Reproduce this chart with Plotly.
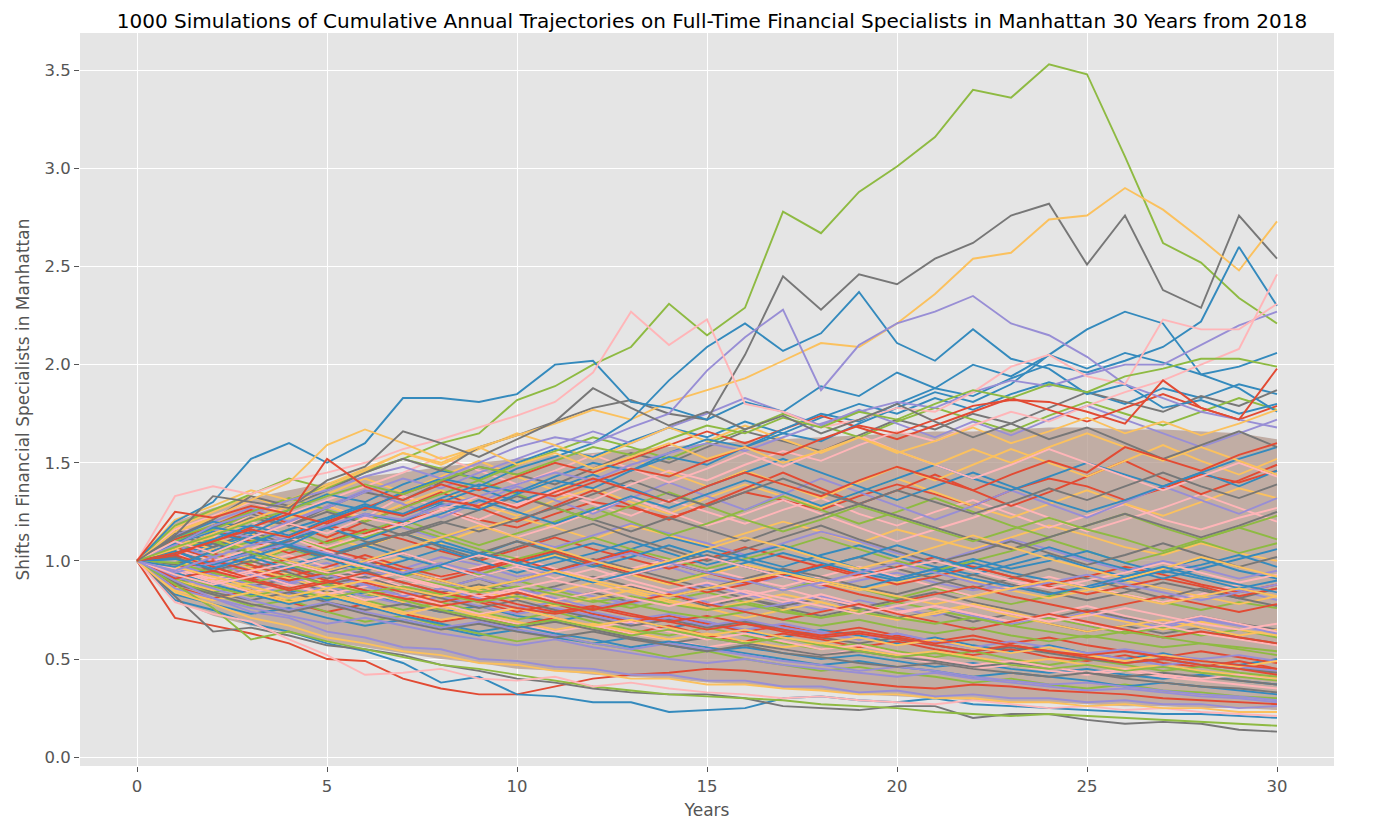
import plotly.graph_objects as go

# ggplot-style colour cycle
CYCLE = ['#E24A33', '#348ABD', '#988ED5', '#777777', '#FBC15E', '#8EBA42', '#FFB5B8']

years = list(range(31))

# edges of the heavily overdrawn part of the bundle
dense_upper = [1.00, 1.20, 1.27, 1.32, 1.36, 1.40, 1.43, 1.45, 1.48, 1.50, 1.52, 1.54, 1.55, 1.57, 1.58, 1.60,
               1.61, 1.62, 1.63, 1.64, 1.65, 1.66, 1.66, 1.67, 1.68, 1.68, 1.67, 1.67, 1.66, 1.65, 1.62]
dense_lower = [1.00, 0.80, 0.72, 0.67, 0.63, 0.59, 0.56, 0.53, 0.50, 0.48, 0.45, 0.44, 0.42, 0.41, 0.40, 0.38,
               0.37, 0.35, 0.34, 0.32, 0.31, 0.30, 0.29, 0.28, 0.28, 0.27, 0.26, 0.26, 0.25, 0.25, 0.24]

# trajectories, in hundredths (100 = start level)
core_paths = [
    [100, 108, 112, 105, 110, 118, 114, 120, 126, 121, 117, 124, 130, 127, 122, 128, 135, 131, 126, 133, 139, 134, 128, 136, 142, 138, 131, 137, 144, 140, 146],
    [100, 93, 88, 91, 85, 80, 84, 78, 74, 77, 72, 69, 73, 70, 66, 69, 64, 61, 65, 62, 58, 61, 57, 54, 57, 53, 50, 53, 49, 47, 50],
    [100, 104, 97, 101, 95, 99, 93, 96, 102, 98, 92, 95, 89, 93, 97, 91, 88, 92, 86, 90, 94, 89, 85, 88, 83, 87, 91, 86, 82, 85, 80],
    [100, 89, 94, 87, 91, 84, 88, 82, 86, 91, 85, 80, 84, 79, 83, 77, 81, 76, 72, 76, 71, 74, 69, 73, 68, 64, 67, 63, 66, 61, 58],
    [100, 111, 105, 113, 119, 112, 107, 114, 109, 116, 122, 117, 111, 118, 113, 108, 114, 120, 115, 109, 116, 111, 106, 112, 118, 113, 107, 103, 109, 104, 100],
    [100, 96, 103, 99, 106, 101, 97, 92, 97, 93, 99, 104, 98, 93, 89, 94, 90, 85, 90, 86, 81, 86, 82, 78, 82, 87, 83, 79, 75, 79, 76],
    [100, 118, 112, 124, 119, 128, 122, 133, 127, 121, 129, 135, 129, 123, 131, 125, 119, 126, 132, 124, 118, 125, 131, 124, 117, 123, 129, 121, 116, 122, 127],
    [100, 87, 81, 85, 79, 74, 78, 73, 69, 72, 67, 71, 66, 63, 67, 62, 59, 63, 60, 56, 59, 55, 52, 55, 51, 49, 52, 48, 46, 49, 45],
    [100, 102, 109, 104, 98, 103, 109, 114, 108, 103, 110, 105, 100, 106, 112, 107, 102, 97, 103, 108, 102, 97, 93, 98, 103, 97, 92, 96, 101, 95, 91],
    [100, 94, 90, 96, 91, 86, 91, 96, 90, 85, 81, 86, 82, 78, 83, 88, 83, 79, 75, 80, 76, 72, 77, 73, 69, 74, 70, 66, 70, 67, 64],
    [100, 106, 99, 93, 97, 91, 95, 89, 84, 88, 83, 87, 92, 87, 82, 86, 81, 77, 81, 76, 80, 84, 79, 75, 71, 75, 71, 68, 72, 68, 65],
    [100, 115, 121, 114, 122, 128, 121, 129, 136, 129, 123, 131, 137, 130, 124, 132, 139, 133, 127, 135, 142, 135, 128, 122, 129, 136, 129, 123, 130, 137, 132],
    [100, 91, 84, 88, 82, 86, 80, 75, 79, 74, 70, 74, 69, 65, 62, 66, 62, 58, 55, 58, 54, 51, 54, 50, 47, 50, 47, 44, 46, 43, 41],
    [100, 97, 92, 98, 103, 97, 92, 87, 92, 97, 102, 96, 91, 96, 101, 96, 91, 87, 92, 97, 92, 87, 82, 87, 92, 87, 83, 79, 83, 88, 84],
    [100, 109, 116, 110, 104, 110, 116, 111, 105, 100, 106, 112, 106, 101, 96, 101, 107, 102, 97, 92, 97, 102, 97, 92, 88, 92, 97, 93, 88, 84, 88],
    [100, 83, 78, 73, 76, 71, 67, 70, 66, 62, 65, 61, 58, 61, 57, 54, 56, 53, 50, 52, 49, 46, 48, 45, 43, 45, 42, 40, 42, 39, 37],
    [100, 103, 110, 116, 110, 117, 123, 117, 111, 118, 112, 107, 113, 119, 114, 109, 103, 109, 115, 110, 104, 99, 105, 111, 106, 100, 95, 100, 96, 91, 95],
    [100, 95, 101, 95, 89, 94, 100, 95, 90, 85, 90, 95, 101, 96, 91, 86, 91, 96, 92, 87, 83, 88, 93, 88, 84, 80, 84, 89, 85, 81, 86],
    [100, 112, 106, 100, 107, 101, 96, 102, 97, 92, 97, 103, 98, 93, 88, 93, 98, 94, 89, 85, 89, 94, 90, 85, 81, 85, 90, 86, 82, 78, 82],
    [100, 88, 93, 98, 92, 87, 82, 86, 81, 85, 90, 85, 80, 76, 80, 84, 79, 75, 71, 75, 79, 75, 71, 67, 71, 67, 63, 66, 62, 65, 61],
    [100, 107, 113, 120, 113, 107, 113, 119, 126, 119, 112, 118, 125, 132, 125, 118, 124, 131, 124, 117, 110, 116, 122, 129, 122, 115, 121, 127, 134, 127, 120],
    [100, 92, 97, 91, 96, 90, 85, 80, 84, 79, 74, 78, 73, 69, 72, 68, 64, 67, 63, 66, 62, 59, 62, 58, 61, 57, 54, 51, 54, 51, 48],
    [100, 104, 99, 105, 100, 95, 100, 105, 110, 104, 99, 104, 109, 104, 99, 94, 99, 104, 99, 94, 90, 94, 99, 94, 90, 86, 90, 95, 91, 86, 90],
    [100, 98, 93, 88, 83, 87, 82, 78, 82, 77, 73, 76, 72, 68, 71, 67, 70, 66, 63, 60, 63, 59, 56, 59, 56, 53, 55, 52, 50, 52, 49],
    [100, 116, 109, 103, 110, 117, 110, 104, 98, 104, 110, 104, 98, 93, 98, 103, 97, 92, 97, 102, 96, 91, 86, 91, 96, 91, 86, 81, 86, 81, 77],
    [100, 90, 85, 89, 94, 89, 84, 79, 83, 87, 82, 77, 81, 85, 80, 76, 71, 75, 79, 74, 70, 73, 77, 72, 68, 64, 67, 70, 66, 62, 65],
    [100, 105, 111, 105, 112, 106, 112, 118, 112, 106, 101, 106, 112, 106, 101, 96, 101, 106, 112, 106, 100, 95, 100, 105, 111, 105, 99, 104, 110, 104, 109],
    [100, 96, 90, 84, 88, 83, 78, 73, 77, 72, 68, 64, 67, 63, 60, 56, 59, 55, 52, 55, 51, 48, 45, 47, 44, 42, 44, 41, 39, 37, 35],
    [100, 110, 104, 98, 92, 97, 103, 97, 92, 96, 101, 95, 100, 105, 99, 94, 89, 93, 98, 93, 88, 92, 97, 92, 87, 83, 87, 91, 87, 82, 86],
    [100, 101, 107, 113, 107, 101, 95, 100, 106, 100, 94, 99, 104, 110, 104, 98, 103, 108, 102, 96, 91, 96, 101, 96, 100, 105, 99, 94, 98, 103, 97],
    [100, 93, 99, 93, 88, 93, 87, 82, 86, 91, 86, 81, 76, 80, 84, 79, 75, 78, 82, 77, 73, 77, 72, 68, 72, 68, 64, 67, 71, 67, 63],
    [100, 114, 107, 115, 108, 102, 108, 114, 107, 101, 107, 113, 119, 112, 106, 100, 106, 112, 118, 111, 105, 99, 104, 110, 104, 98, 103, 109, 103, 97, 102],
    [100, 86, 91, 85, 80, 84, 79, 74, 70, 73, 69, 65, 68, 64, 60, 63, 59, 56, 58, 55, 52, 54, 51, 48, 50, 47, 45, 47, 44, 42, 40],
    [100, 99, 104, 110, 116, 109, 115, 121, 114, 108, 114, 120, 127, 120, 113, 119, 126, 133, 126, 119, 125, 132, 125, 118, 112, 118, 124, 117, 111, 117, 123],
    [100, 95, 89, 94, 88, 83, 87, 91, 86, 81, 85, 80, 84, 88, 83, 78, 82, 86, 81, 77, 73, 77, 73, 69, 73, 77, 72, 68, 72, 68, 64],
    [100, 107, 101, 96, 101, 106, 101, 95, 90, 95, 100, 105, 99, 94, 89, 84, 88, 93, 88, 83, 79, 83, 87, 82, 78, 74, 78, 82, 78, 74, 78],
    [100, 91, 96, 102, 96, 102, 108, 102, 97, 92, 97, 102, 97, 102, 108, 102, 97, 92, 97, 102, 108, 102, 96, 101, 107, 101, 96, 91, 96, 101, 106],
    [100, 113, 120, 127, 120, 128, 136, 129, 122, 130, 138, 131, 124, 132, 140, 133, 126, 134, 142, 135, 128, 121, 128, 136, 129, 122, 130, 138, 131, 124, 132],
    [100, 89, 84, 80, 84, 79, 75, 78, 74, 70, 66, 69, 65, 61, 58, 61, 58, 55, 52, 54, 51, 49, 46, 48, 46, 43, 41, 43, 41, 39, 37],
    [100, 97, 102, 96, 91, 86, 90, 95, 90, 85, 80, 84, 89, 84, 79, 75, 79, 83, 79, 74, 70, 74, 78, 74, 69, 73, 69, 65, 69, 65, 62],
    [100, 90, 83, 77, 80, 74, 69, 72, 67, 63, 59, 62, 58, 55, 51, 54, 50, 47, 44, 46, 43, 41, 38, 40, 37, 35, 37, 34, 33, 31, 30],
    [100, 104, 96, 89, 93, 86, 80, 83, 78, 73, 76, 71, 66, 69, 64, 60, 63, 59, 55, 57, 53, 50, 47, 49, 46, 43, 45, 42, 40, 42, 39],
    [100, 111, 118, 126, 119, 112, 120, 127, 135, 127, 120, 128, 136, 128, 121, 129, 137, 145, 137, 129, 136, 144, 136, 128, 135, 143, 151, 142, 134, 141, 149],
    [100, 94, 88, 83, 78, 82, 77, 72, 68, 64, 67, 63, 60, 56, 59, 56, 53, 50, 47, 49, 46, 44, 41, 43, 41, 39, 36, 38, 36, 34, 32],
    [100, 108, 102, 95, 89, 93, 88, 82, 86, 81, 76, 79, 74, 70, 73, 69, 65, 68, 64, 60, 63, 59, 56, 53, 56, 53, 50, 47, 49, 46, 44],
    [100, 102, 95, 100, 94, 88, 92, 86, 81, 76, 80, 75, 71, 67, 70, 66, 69, 65, 61, 58, 61, 57, 54, 56, 53, 50, 48, 50, 47, 45, 43],
    [100, 117, 125, 133, 126, 134, 142, 135, 143, 151, 143, 136, 144, 152, 145, 138, 146, 139, 132, 140, 148, 141, 149, 157, 150, 143, 151, 159, 151, 144, 152],
    [100, 93, 87, 82, 86, 81, 85, 80, 75, 71, 67, 70, 66, 62, 65, 61, 58, 61, 57, 54, 51, 53, 50, 47, 45, 47, 44, 46, 43, 41, 39],
    [100, 106, 100, 106, 112, 105, 99, 104, 98, 92, 97, 91, 96, 90, 85, 89, 84, 79, 83, 78, 74, 77, 73, 69, 72, 68, 64, 67, 63, 60, 57],
    [100, 96, 100, 95, 90, 94, 89, 84, 79, 83, 78, 74, 77, 73, 69, 65, 68, 64, 61, 63, 60, 57, 54, 57, 54, 51, 48, 50, 47, 45, 42],
    [100, 105, 98, 104, 111, 117, 111, 118, 124, 131, 125, 119, 126, 133, 127, 134, 141, 135, 128, 135, 142, 149, 142, 136, 143, 150, 144, 138, 145, 152, 158],
    [100, 92, 86, 80, 75, 79, 74, 70, 66, 69, 65, 62, 58, 55, 58, 55, 52, 49, 47, 44, 46, 44, 41, 39, 37, 38, 36, 34, 32, 31, 29],
    [100, 98, 105, 112, 107, 102, 108, 114, 120, 115, 121, 127, 121, 115, 122, 116, 110, 117, 123, 129, 123, 117, 111, 106, 112, 118, 124, 118, 112, 118, 125],
    [100, 85, 80, 84, 79, 83, 78, 73, 77, 72, 76, 71, 67, 70, 66, 62, 65, 61, 58, 61, 57, 60, 56, 53, 56, 52, 49, 52, 49, 46, 49],
    [100, 112, 118, 125, 132, 126, 120, 127, 134, 141, 134, 127, 121, 128, 135, 128, 121, 115, 121, 128, 122, 116, 110, 116, 122, 116, 111, 105, 111, 117, 111],
    [100, 96, 91, 95, 99, 94, 90, 94, 98, 103, 98, 94, 89, 93, 98, 102, 97, 92, 88, 92, 96, 100, 95, 90, 86, 90, 94, 99, 94, 89, 93],
    [100, 103, 97, 91, 86, 90, 85, 81, 77, 80, 76, 73, 76, 72, 69, 72, 68, 65, 62, 64, 61, 58, 60, 57, 54, 52, 54, 51, 49, 47, 45],
    [100, 109, 115, 109, 116, 122, 129, 123, 130, 137, 130, 137, 144, 137, 130, 138, 145, 152, 145, 138, 131, 138, 145, 138, 131, 125, 131, 138, 145, 138, 146],
    [100, 94, 99, 104, 109, 104, 99, 94, 99, 94, 89, 94, 99, 104, 99, 94, 90, 85, 89, 94, 99, 94, 89, 85, 89, 93, 88, 84, 80, 84, 88],
    [100, 88, 83, 78, 74, 78, 73, 69, 65, 68, 64, 61, 64, 60, 57, 54, 57, 53, 51, 48, 46, 48, 45, 43, 41, 43, 40, 38, 36, 35, 33],
    [100, 107, 112, 106, 100, 95, 100, 106, 112, 118, 112, 106, 100, 95, 100, 106, 112, 107, 101, 96, 101, 107, 113, 107, 101, 96, 91, 96, 102, 97, 92],
    [100, 99, 94, 89, 93, 88, 84, 87, 83, 79, 82, 78, 75, 78, 74, 71, 74, 70, 67, 70, 66, 63, 66, 62, 59, 62, 59, 56, 58, 55, 52],
    [100, 116, 123, 130, 124, 131, 138, 145, 153, 146, 139, 146, 154, 147, 140, 147, 155, 148, 156, 164, 156, 149, 142, 149, 157, 150, 143, 136, 143, 150, 143],
    [100, 91, 95, 90, 85, 89, 94, 89, 84, 80, 84, 79, 75, 79, 83, 78, 74, 70, 74, 78, 73, 69, 65, 69, 73, 69, 65, 61, 64, 61, 58],
    [100, 101, 96, 102, 108, 103, 98, 93, 98, 104, 99, 94, 89, 94, 99, 105, 100, 95, 90, 86, 91, 96, 91, 87, 83, 87, 92, 97, 92, 88, 84],
    [100, 86, 81, 76, 72, 68, 71, 67, 63, 60, 57, 60, 56, 53, 50, 48, 50, 47, 45, 43, 41, 43, 40, 38, 36, 34, 35, 33, 31, 30, 28],
    [100, 110, 117, 124, 118, 125, 119, 113, 119, 126, 133, 127, 134, 141, 134, 128, 135, 142, 135, 129, 136, 130, 124, 130, 137, 131, 138, 145, 138, 132, 139],
    [100, 97, 92, 87, 82, 86, 90, 86, 82, 86, 90, 95, 90, 86, 82, 86, 90, 94, 90, 86, 82, 78, 82, 86, 90, 86, 82, 78, 82, 86, 82],
    [100, 104, 110, 104, 98, 93, 97, 92, 88, 84, 87, 83, 79, 82, 78, 75, 78, 74, 71, 74, 71, 68, 71, 67, 64, 61, 64, 61, 58, 56, 54],
    [100, 93, 88, 92, 97, 102, 97, 92, 87, 82, 86, 90, 86, 81, 77, 81, 85, 81, 77, 73, 77, 81, 77, 73, 69, 72, 76, 72, 68, 65, 68],
]

mid_paths = [
    [100, 112, 120, 117, 126, 134, 130, 139, 146, 142, 150, 157, 153, 161, 168, 163, 171, 165, 173, 180, 175, 183, 177, 185, 191, 186, 180, 188, 183, 190, 185],
    [100, 106, 114, 122, 118, 127, 135, 131, 140, 148, 144, 139, 147, 155, 150, 158, 166, 161, 156, 164, 172, 167, 175, 170, 178, 186, 181, 176, 184, 179, 187],
    [100, 118, 126, 134, 142, 137, 145, 152, 147, 141, 149, 156, 163, 158, 152, 160, 167, 175, 169, 163, 171, 178, 172, 166, 174, 181, 175, 169, 176, 183, 177],
    [100, 109, 116, 112, 120, 127, 135, 142, 137, 145, 152, 159, 166, 160, 168, 175, 183, 176, 169, 177, 170, 163, 171, 164, 172, 179, 172, 165, 158, 165, 172],
    [100, 103, 110, 117, 124, 119, 127, 134, 141, 136, 143, 150, 145, 152, 159, 166, 160, 167, 174, 168, 162, 169, 176, 183, 177, 171, 178, 185, 178, 172, 179],
    [100, 121, 128, 136, 131, 139, 147, 155, 149, 157, 165, 159, 152, 160, 168, 161, 169, 162, 155, 163, 156, 149, 157, 150, 158, 165, 158, 151, 158, 151, 144],
]
mid_colors = ['#348ABD', '#777777', '#8EBA42', '#988ED5', '#E24A33', '#FBC15E']

upper_paths = [
    [100, 110, 116, 124, 131, 138, 146, 152, 160, 165, 182, 189, 200, 209, 231, 215, 229, 278, 267, 288, 301, 316, 340, 336, 353, 348, 306, 262, 252, 234, 221],
    [100, 112, 121, 133, 128, 136, 145, 152, 146, 158, 164, 171, 178, 182, 175, 172, 205, 245, 228, 246, 241, 254, 262, 276, 282, 251, 276, 238, 229, 276, 254],
    [100, 106, 114, 121, 128, 138, 146, 155, 150, 158, 164, 170, 177, 172, 181, 187, 193, 202, 211, 209, 221, 236, 254, 257, 274, 276, 290, 279, 264, 248, 273],
    [100, 120, 130, 152, 160, 150, 160, 183, 183, 181, 185, 200, 202, 181, 178, 172, 181, 176, 189, 184, 196, 188, 200, 194, 205, 198, 206, 201, 195, 199, 206],
    [100, 109, 117, 114, 123, 130, 126, 135, 142, 138, 147, 153, 160, 172, 192, 209, 221, 207, 216, 237, 211, 202, 218, 203, 198, 185, 190, 178, 182, 175, 180],
    [100, 104, 111, 118, 113, 121, 128, 124, 132, 139, 135, 143, 150, 146, 155, 162, 158, 167, 175, 171, 180, 188, 184, 193, 200, 196, 202, 209, 222, 260, 230],
    [100, 97, 105, 112, 108, 117, 124, 120, 129, 126, 134, 141, 137, 146, 153, 149, 158, 165, 161, 170, 178, 186, 181, 190, 205, 218, 227, 221, 195, 188, 176],
    [100, 108, 118, 124, 131, 136, 143, 148, 142, 150, 158, 163, 160, 168, 175, 197, 214, 228, 187, 210, 221, 227, 235, 221, 215, 204, 190, 183, 176, 172, 168],
    [100, 95, 102, 108, 112, 118, 124, 121, 128, 133, 139, 145, 141, 149, 155, 160, 156, 163, 170, 176, 181, 178, 186, 192, 189, 195, 200, 200, 210, 220, 227],
    [100, 133, 138, 134, 141, 145, 150, 157, 162, 168, 174, 181, 196, 227, 210, 223, 180, 176, 168, 172, 178, 176, 186, 199, 205, 194, 190, 223, 218, 218, 231],
    [100, 110, 104, 112, 119, 114, 122, 118, 126, 133, 128, 136, 131, 139, 146, 141, 149, 156, 151, 159, 166, 161, 169, 176, 171, 179, 186, 192, 200, 208, 246],
    [100, 104, 110, 116, 112, 120, 127, 123, 131, 128, 136, 133, 140, 147, 143, 151, 158, 154, 162, 169, 165, 172, 179, 182, 181, 176, 170, 192, 178, 172, 198],
    [100, 107, 113, 120, 126, 133, 139, 134, 141, 148, 144, 151, 158, 154, 162, 169, 165, 173, 168, 176, 172, 180, 187, 183, 190, 186, 194, 198, 203, 203, 199],
    [100, 115, 122, 131, 140, 159, 167, 160, 152, 158, 149, 155, 147, 153, 160, 152, 158, 150, 156, 163, 155, 161, 168, 160, 166, 173, 165, 171, 164, 170, 177],
    [100, 113, 133, 130, 127, 141, 148, 166, 160, 153, 162, 171, 188, 178, 169, 176, 167, 174, 165, 172, 180, 171, 163, 170, 162, 168, 160, 152, 159, 166, 158],
    [100, 125, 122, 128, 124, 152, 138, 131, 139, 133, 127, 135, 142, 136, 130, 138, 145, 139, 133, 141, 148, 142, 136, 144, 151, 145, 158, 152, 146, 154, 160],
]
upper_colors = ['#8EBA42', '#777777', '#FBC15E', '#348ABD', '#348ABD', '#348ABD', '#348ABD', '#988ED5',
                '#988ED5', '#FFB5B8', '#FFB5B8', '#E24A33', '#8EBA42', '#FBC15E', '#777777', '#E24A33']

lower_paths = [
    [100, 71, 67, 63, 58, 50, 49, 40, 35, 32, 32, 36, 40, 42, 43, 45, 44, 42, 40, 38, 36, 35, 37, 36, 34, 33, 32, 30, 29, 28, 27],
    [100, 80, 75, 68, 64, 58, 54, 48, 38, 41, 32, 31, 28, 28, 23, 24, 25, 30, 31, 29, 28, 30, 27, 26, 25, 24, 23, 22, 22, 21, 20],
    [100, 82, 64, 66, 62, 57, 55, 52, 47, 44, 40, 38, 35, 33, 32, 32, 30, 26, 25, 24, 26, 26, 20, 22, 22, 19, 17, 18, 17, 14, 13],
    [100, 88, 76, 60, 64, 59, 55, 51, 47, 45, 42, 39, 36, 34, 32, 31, 30, 29, 27, 26, 25, 23, 22, 21, 22, 21, 20, 19, 18, 17, 16],
    [100, 79, 73, 69, 60, 52, 42, 43, 45, 40, 39, 41, 36, 38, 35, 33, 32, 30, 31, 29, 28, 27, 29, 27, 25, 26, 24, 25, 23, 22, 21],
    [100, 84, 78, 71, 67, 61, 58, 54, 52, 48, 47, 44, 43, 40, 40, 37, 37, 35, 34, 32, 32, 30, 30, 28, 28, 26, 27, 25, 25, 23, 23],
    [100, 90, 81, 74, 71, 64, 61, 56, 55, 50, 49, 46, 45, 42, 42, 39, 39, 36, 36, 33, 34, 31, 32, 30, 30, 28, 29, 27, 27, 25, 26],
]
lower_colors = ['#E24A33', '#348ABD', '#777777', '#8EBA42', '#FFB5B8', '#FBC15E', '#988ED5']


def add_path(fig, path, color):
    fig.add_trace(go.Scatter(x=years[:len(path)], y=[v / 100 for v in path], mode='lines',
                             line=dict(color=color, width=1.9), hoverinfo='skip', showlegend=False))


fig = go.Figure()

# overdrawn core of the bundle
fig.add_trace(go.Scatter(x=years + years[::-1], y=dense_upper + dense_lower[::-1], mode='lines', fill='toself',
                         fillcolor='rgba(180,153,142,0.75)', line=dict(width=0), hoverinfo='skip', showlegend=False))

for i, p in enumerate(core_paths):
    add_path(fig, p, CYCLE[i % len(CYCLE)])
for p, c in zip(lower_paths, lower_colors):
    add_path(fig, p, c)
for p, c in zip(mid_paths, mid_colors):
    add_path(fig, p, c)
for p, c in zip(upper_paths, upper_colors):
    add_path(fig, p, c)

axis_common = dict(showgrid=True, gridcolor='white', gridwidth=1, zeroline=False, showline=False,
                   ticks='outside', ticklen=5, tickwidth=1, tickcolor='#555555', automargin=False,
                   tickfont=dict(size=16.5, color='#555555'))

# the page body adds 8px on the left and top, so the figure is 8px smaller
fig.update_layout(
    width=1372, height=826,
    margin=dict(l=72, r=46, t=25, b=68),
    paper_bgcolor='white', plot_bgcolor='#E5E5E5',
    font=dict(family='DejaVu Sans', color='#555555'),
    title=dict(text='1000 Simulations of Cumulative Annual Trajectories on Full-Time Financial Specialists in Manhattan 30 Years from 2018',
               x=704 / 1372, xref='container', xanchor='center', y=1 - 13 / 826, yref='container', yanchor='middle',
               font=dict(size=20, color='black')),
    showlegend=False,
)
fig.update_xaxes(range=[-1.5, 31.5], tickvals=[0, 5, 10, 15, 20, 25, 30],
                 title=dict(text='Years', font=dict(size=17, color='#555555'), standoff=9), **axis_common)
fig.update_yaxes(range=[-0.045, 3.69], tickvals=[0, 0.5, 1, 1.5, 2, 2.5, 3, 3.5], tickformat='.1f',
                 title=dict(text='Shifts in Financial Specialists in Manhattan', font=dict(size=17, color='#555555'), standoff=10),
                 **axis_common)

fig.write_html('out.html')
